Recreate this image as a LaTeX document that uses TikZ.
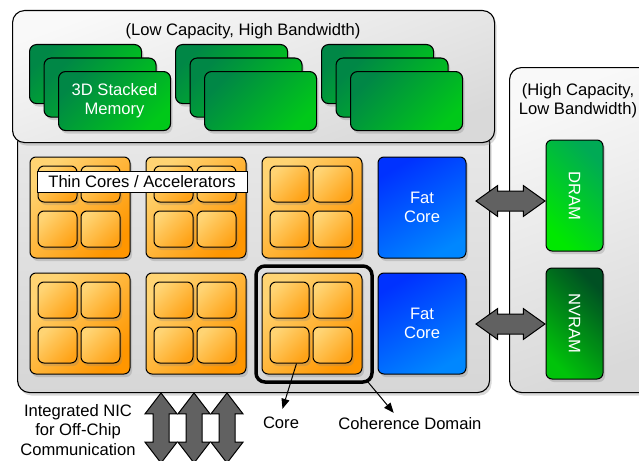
\documentclass[tikz,border=0pt]{standalone}
\usepackage{fontspec}
\setmainfont{Liberation Sans}
\usetikzlibrary{positioning,calc,shapes.arrows,shadows,arrows.meta}
\definecolor{memdark}{RGB}{0,135,70}
\definecolor{memlight}{RGB}{0,200,25}
\definecolor{dramdark}{RGB}{0,170,85}
\definecolor{dramlight}{RGB}{0,232,0}
\definecolor{nvdark}{RGB}{0,80,35}
\definecolor{nvlight}{RGB}{0,195,10}
\definecolor{fatdark}{RGB}{0,50,255}
\definecolor{fatlight}{RGB}{0,135,255}
\definecolor{orlight}{RGB}{255,212,115}
\definecolor{ordark}{RGB}{255,150,0}
\tikzset{
	soft/.style = {drop shadow={opacity=0.3, shadow xshift=2pt, shadow yshift=-3pt}},
	panel/.style = {draw, line width=1.1pt, rounded corners=12pt, top color=gray!5, bottom color=gray!30, shading angle=20, soft, anchor=north west, inner sep=0},
	chip/.style = {draw, line width=1.1pt, rounded corners=12pt, top color=gray!18, bottom color=gray!32, soft, anchor=north west, inner sep=0},
	memcard/.style = {draw, line width=1.1pt, rounded corners=7pt, minimum width=112pt, minimum height=59pt, top color=memdark, bottom color=memlight, shading angle=45, soft, anchor=north west, inner sep=0},
	cluster/.style = {draw, line width=1pt, rounded corners=6pt, minimum width=100pt, minimum height=101pt, top color=orlight, bottom color=ordark, shading angle=45, soft, inner sep=0},
	core/.style = {draw, line width=1pt, rounded corners=6pt, minimum width=39pt, minimum height=36pt, top color=orlight, bottom color=ordark!80!orlight, shading angle=45, drop shadow={opacity=0.25, shadow xshift=2pt, shadow yshift=-3pt}, inner sep=0},
	fatcore/.style = {draw, line width=1pt, rounded corners=6pt, minimum width=88pt, minimum height=101pt, top color=fatdark, bottom color=fatlight, shading angle=30, soft, text=white, align=center},
	dramchip/.style = {draw, line width=1pt, rounded corners=6pt, minimum width=57pt, minimum height=111pt, top color=dramdark, bottom color=dramlight, shading angle=-45, soft, text=white},
	nvchip/.style = {draw, line width=1pt, rounded corners=6pt, minimum width=57pt, minimum height=111pt, top color=nvdark, bottom color=nvlight, shading angle=-45, soft, text=white},
	bus/.style = {draw, line width=1pt, shape=double arrow, fill=black!62, inner xsep=0, inner ysep=9.5pt, minimum height=69pt, double arrow head extend=5.5pt, double arrow tip angle=71},
	link/.style = {draw, line width=1pt, shape=double arrow, fill=black!62, inner xsep=0, inner ysep=7.5pt, rotate=90, minimum height=70pt, double arrow head extend=8pt, double arrow tip angle=75},
	thinlabel/.style = {draw, fill=white, line width=0.8pt, minimum width=210pt, minimum height=21pt, inner sep=0},
	cohbox/.style = {draw, line width=3.5pt, rounded corners=9pt, minimum width=116pt, minimum height=116pt},
	pointer/.style = {line width=1pt, -{Triangle[length=10pt, width=8pt]}}
}
\begin{document}
\begin{tikzpicture}[x=1pt, y=-1pt, font=\fontsize{16.6}{19.2}\selectfont]
	\useasboundingbox (0,0) rectangle (639,460);
	
	\node [chip, minimum width=472pt, minimum height=262pt] (chip) at (17,130) {};
	\node [panel, minimum width=482pt, minimum height=132pt] (hbm) at (12,10) {};
	\node [panel, minimum width=161pt, minimum height=325pt] (slow) at (509,67) {};
	
	\node (hbmtext) at (243,31) {(Low Capacity, High Bandwidth)};
	\node [align=center] (slowtext) at (578,101) {(High Capacity,\\Low Bandwidth)};
	
	\foreach \s in {0,1,2}{
		\foreach \l in {0,1,2}{
			\node [memcard] (mem\s\l) at ({29+146*\s+14.5*\l},{44+13.5*\l}) {};
		}
	}
	\node [text=white, align=center] (memtext) at (mem02) {3D Stacked\\Memory};
	
	\foreach \c in {0,1,2}{
		\foreach \r in {0,1}{
			\node [cluster] (cl\c\r) at ({80+116*\c},{207.5+116*\r}) {};
			\node [core, anchor=north west] (k\c\r1) at ($(cl\c\r.north west)+(8,9)$) {};
			\node [core, right=3pt of k\c\r1] (k\c\r2) {};
			\node [core, below=8pt of k\c\r1] (k\c\r3) {};
			\node [core, right=3pt of k\c\r3] (k\c\r4) {};
		}
	}
	\node [thinlabel] (thin) at (142,181.5) {Thin Cores / Accelerators};
	\node [cohbox] (dom) at (314,324) {};
	
	\node [fatcore] (fat1) at (422,207.5) {Fat\\Core};
	\node [fatcore] (fat2) at (422,323.5) {Fat\\Core};
	\node [dramchip] (dram) at (574.5,195.5) {\rotatebox{-90}{DRAM}};
	\node [nvchip] (nvram) at (574.5,323.5) {\rotatebox{-90}{NVRAM}};
	
	\node [bus] (bus1) at (510.5,201) {};
	\node [bus] (bus2) at (510.5,324) {};
	
	\node [link] (link1) at (161,428) {};
	\node [link] (link2) at (194,428) {};
	\node [link] (link3) at (227,428) {};
	
	\node [align=center] (nic) at (78,430) {Integrated NIC\\for Off-Chip\\Communication};
	\node (corelab) at (281,423) {Core};
	\node (cohlab) at (410,424) {Coherence Domain};
	
	\draw [pointer, shorten >=5pt] ($(k213.south)+(7,0)$) -- (corelab.north);
	\draw [pointer, shorten >=2pt] ($(dom.south east)+(-6,-2)$) -- ($(cohlab.north)+(-15,0)$);
\end{tikzpicture}
\end{document}
